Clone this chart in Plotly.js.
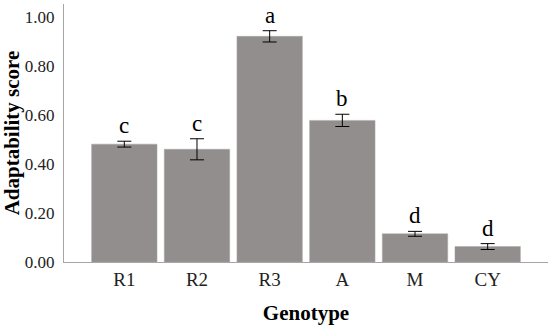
<!DOCTYPE html>
<html>
<head>
<meta charset="utf-8">
<script src="https://cdn.plot.ly/plotly-3.0.1.min.js"></script>
<style>
  html, body { margin: 0; padding: 0; background: #fff; }
  #chart { width: 550px; height: 327px; }
</style>
</head>
<body>
<div id="chart"></div>
<script>
// Chart data
const genotypes = ['R1', 'R2', 'R3', 'A', 'M', 'CY'];
const meanScores = [0.481, 0.460, 0.921, 0.578, 0.115, 0.063];
const errorSizes = [0.012, 0.043, 0.023, 0.025, 0.010, 0.012];
const groupLetters = ['c', 'c', 'a', 'b', 'd', 'd'];
const yTicks = [0, 0.2, 0.4, 0.6, 0.8, 1.0];

const serif = 'Liberation Serif';

const data = [{
    type: 'bar',
    x: genotypes,
    y: meanScores,
    marker: {
        color: '#928e8d',
        line: { color: '#a8a5a4', width: 0.5 }
    },
    error_y: {
        type: 'data',
        array: errorSizes,
        visible: true,
        color: '#000',
        thickness: 1,
        width: 7
    },
    hoverinfo: 'skip'
}];

// Significance letters above each error bar
const annotations = genotypes.map((g, i) => ({
    x: g,
    y: meanScores[i] + errorSizes[i],
    text: groupLetters[i],
    showarrow: false,
    yanchor: 'bottom',
    yshift: 1,
    font: { family: serif, size: 23, color: '#000' }
}));

const layout = {
    width: 550,
    height: 327,
    margin: { l: 64, r: 2, t: 4, b: 65 },
    paper_bgcolor: '#fff',
    plot_bgcolor: '#fff',
    showlegend: false,
    bargap: 0.1,
    font: { family: serif, color: '#000' },
    xaxis: {
        range: [-0.83, 5.83],
        showline: true,
        linecolor: '#a6a6a6',
        linewidth: 1.2,
        ticks: '',
        tickfont: { family: serif, size: 19, color: '#222' },
        showgrid: false,
        zeroline: false,
        title: {
            text: '<b>Genotype</b>',
            font: { family: serif, size: 21, color: '#000' },
            standoff: 16
        }
    },
    yaxis: {
        range: [0, 1.053],
        tickvals: yTicks,
        tickformat: '.2f',
        showline: true,
        linecolor: '#a6a6a6',
        linewidth: 1.2,
        ticks: '',
        ticklabelstandoff: 5,
        tickfont: { family: serif, size: 17, color: '#222' },
        showgrid: false,
        zeroline: false,
        title: {
            text: '<b>Adaptability score</b>',
            font: { family: serif, size: 21, color: '#000' },
            standoff: 8
        }
    },
    annotations: annotations
};

Plotly.newPlot('chart', data, layout, { displayModeBar: false, staticPlot: true });
</script>
</body>
</html>
